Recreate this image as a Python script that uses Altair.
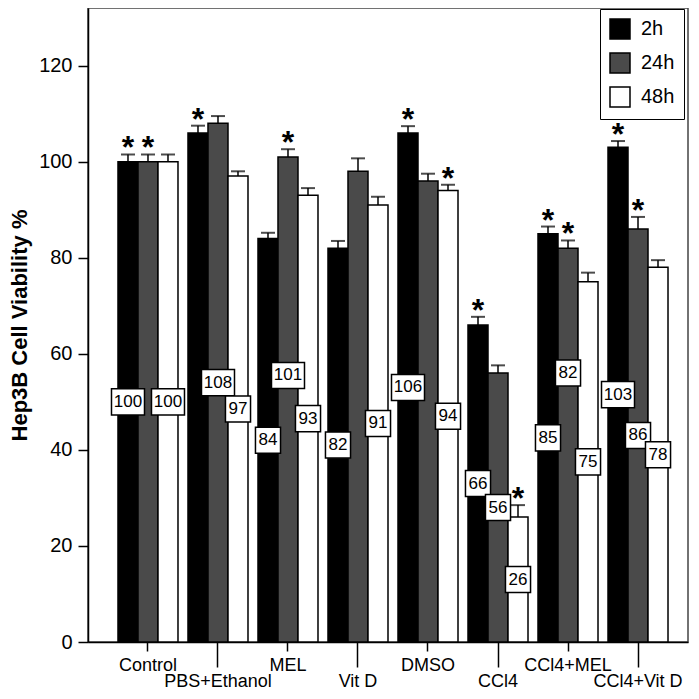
import altair as alt
import pandas as pd

groups = ["Control", "PBS+Ethanol", "MEL", "Vit D", "DMSO", "CCl4", "CCl4+MEL", "CCl4+Vit D"]
times = ["2h", "24h", "48h"]

v2h = [100, 106, 84, 82, 106, 66, 85, 103]
v24h = [100, 108, 101, 98, 96, 56, 82, 86]
v48h = [100, 97, 93, 91, 94, 26, 75, 78]

e2h = [1.5, 1.5, 1.2, 1.5, 1.4, 1.7, 1.5, 1.3]
e24h = [1.5, 1.5, 1.6, 2.7, 1.5, 1.6, 1.6, 2.5]
e48h = [1.5, 1.0, 1.5, 1.7, 1.2, 2.5, 1.9, 1.5]

star2h = [1, 1, 0, 0, 1, 1, 1, 1]
star24h = [1, 0, 1, 0, 0, 0, 1, 1]
star48h = [0, 0, 0, 0, 1, 1, 0, 0]

show2h = [1, 0, 1, 1, 1, 1, 1, 1]
show24h = [0, 1, 1, 0, 0, 1, 1, 1]
show48h = [1, 1, 1, 1, 1, 1, 1, 1]

# label anchors are drawn at half the bar value; a few are nudged up (data units)
nudge24h = [0, 0, 5, 0, 0, 0, 15, 0]
nudge2h = [0] * 8
nudge48h = [0] * 8

rows = []
for t, vals, errs, stars, shows, nud in [
    ("2h", v2h, e2h, star2h, show2h, nudge2h),
    ("24h", v24h, e24h, star24h, show24h, nudge24h),
    ("48h", v48h, e48h, star48h, show48h, nudge48h),
]:
    for i, g in enumerate(groups):
        rows.append({
            "group": g, "time": t, "value": vals[i], "err": errs[i],
            "star": stars[i], "show": shows[i], "nudge": nud[i],
            "label": str(vals[i]), "digits": str(len(str(vals[i]))),
        })
df = pd.DataFrame(rows)

FONT = "Liberation Sans"
SECOND = "indexof(['PBS+Ethanol','Vit D','CCl4','CCl4+Vit D'], datum.value) >= 0"

xenc = alt.X(
    "group:N", sort=groups,
    scale=alt.Scale(paddingInner=1 / 7, paddingOuter=0.357, align=0.6),
    axis=alt.Axis(
        title=None, labelAngle=0, labelFontSize=18, labelFont=FONT,
        labelPadding=5, labelOverlap=False, labelBound=False,
        tickSize={"condition": {"test": SECOND, "value": 25}, "value": 9},
        tickWidth=1.5, domainWidth=1.5, domainColor="black", tickColor="black", labelColor="black",
    ),
)
xoff = alt.XOffset("time:N", sort=times)
yscale = alt.Scale(domain=[0, 132], nice=False)

base = alt.Chart(df).transform_calculate(
    hi="datum.value + datum.err", ly="datum.value / 2 + datum.nudge"
)

bars = base.mark_bar(stroke="black", strokeWidth=1.5).encode(
    x=xenc, xOffset=xoff,
    y=alt.Y("value:Q", scale=yscale, axis=alt.Axis(
        values=[0, 20, 40, 60, 80, 100, 120], tickSize=10, labelFontSize=20, labelFont=FONT,
        labelPadding=6, grid=False, title="Hep3B Cell Viability %", titleFontSize=22,
        titleFont=FONT, titleFontWeight="bold", titleColor="black",
        titleX=-62, titleBaseline="alphabetic",
        tickWidth=1.5, domainWidth=1.5, domainColor="black", tickColor="black", labelColor="black",
    )),
    color=alt.Color("time:N", sort=times,
                    scale=alt.Scale(domain=times, range=["#000000", "#4a4a4a", "#ffffff"]),
                    legend=alt.Legend(
                        title=None, orient="none", legendX=512, legendY=1,
                        symbolType="square", symbolSize=400, symbolStrokeColor="black",
                        symbolStrokeWidth=1.5, labelFontSize=20, labelFont=FONT,
                        labelColor="black", strokeColor="black", fillColor="white",
                        padding=9, rowPadding=8, labelOffset=10,
                    )),
)

err_line = base.mark_rule(color="black", strokeWidth=1.5).encode(
    x=alt.X("group:N", sort=groups), xOffset=xoff,
    y=alt.Y("value:Q", scale=yscale), y2="hi:Q",
)
caps = base.mark_tick(color="black", thickness=2, size=14, orient="horizontal").encode(
    x=alt.X("group:N", sort=groups), xOffset=xoff,
    y=alt.Y("hi:Q", scale=yscale),
)
stars = base.transform_filter("datum.star == 1").mark_text(
    text="*", fontSize=32, fontWeight="bold", font=FONT, baseline="alphabetic", dy=4, color="black"
).encode(
    x=alt.X("group:N", sort=groups), xOffset=xoff,
    y=alt.Y("hi:Q", scale=yscale),
)

path2 = "M-0.76,-0.79L0.76,-0.79L0.76,0.79L-0.76,0.79Z"
path3 = "M-1,-0.79L1,-0.79L1,0.79L-1,0.79Z"
boxes = base.transform_filter("datum.show == 1").mark_point(
    filled=True, fill="white", stroke="black", strokeWidth=1.5, size=1089, opacity=1
).encode(
    x=alt.X("group:N", sort=groups), xOffset=xoff,
    y=alt.Y("ly:Q", scale=yscale),
    shape=alt.Shape("digits:N", scale=alt.Scale(domain=["2", "3"], range=[path2, path3]), legend=None),
)
labels = base.transform_filter("datum.show == 1").mark_text(
    fontSize=17, font=FONT, baseline="middle", color="black"
).encode(
    x=alt.X("group:N", sort=groups), xOffset=xoff,
    y=alt.Y("ly:Q", scale=yscale),
    text="label:N",
)

chart = alt.layer(bars, err_line, caps, stars, boxes, labels).properties(
    width=600, height=634,
    autosize=alt.AutoSizeParams(type="none"),
    padding={"left": 80, "top": 0, "right": 3, "bottom": 49},
).configure_view(stroke="#444", strokeWidth=1.5)

chart.save("out.html", embed_options={"renderer": "svg", "actions": False})
